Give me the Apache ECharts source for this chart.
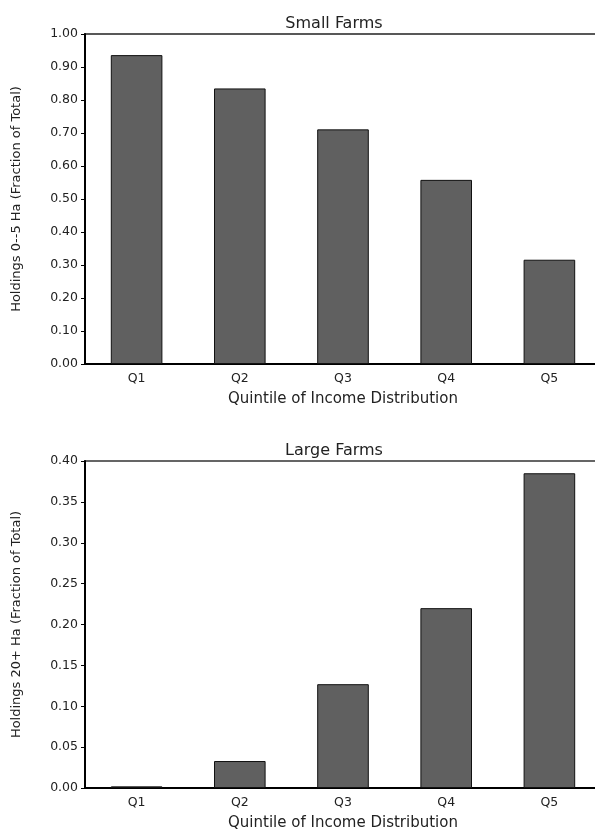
<!DOCTYPE html>
<html>
<head>
<meta charset="utf-8">
<script src="https://cdn.jsdelivr.net/npm/echarts@6/dist/echarts.min.js"></script>
<style>
html,body{margin:0;padding:0;background:#fff;overflow:hidden;width:595px;height:832px;}
#chart{width:603px;height:832px;}
</style>
</head>
<body>
<div id="chart"></div>
<script>
const categories = ['Q1', 'Q2', 'Q3', 'Q4', 'Q5'];
const smallFarms = [0.936, 0.835, 0.711, 0.558, 0.316];
const largeFarms = [0.002, 0.033, 0.127, 0.220, 0.385];
const smallTitle = 'Small Farms';
const largeTitle = 'Large Farms';
const smallYName = 'Holdings 0--5 Ha (Fraction of Total)';
const largeYName = 'Holdings 20+ Ha (Fraction of Total)';
const xName = 'Quintile of Income Distribution';

const FONT = 'DejaVu Sans';
const chart = echarts.init(document.getElementById('chart'), null, {renderer: 'canvas'});

function xAxisCfg(gi) {
  return {
    type: 'category', gridIndex: gi, data: categories,
    name: xName, nameLocation: 'middle', nameGap: 28,
    nameTextStyle: {fontFamily: FONT, fontSize: 15, color: '#222'},
    axisLine: {lineStyle: {color: '#000', width: 2}},
    axisTick: {alignWithLabel: true, length: 4, lineStyle: {color: '#000', width: 1}},
    axisLabel: {fontFamily: FONT, fontSize: 12.5, color: '#222', margin: 8},
    splitLine: {show: false}
  };
}
function yAxisCfg(gi, max, interval, name) {
  return {
    type: 'value', gridIndex: gi, min: 0, max: max, interval: interval,
    name: name, nameLocation: 'middle', nameGap: 62,
    nameTextStyle: {fontFamily: FONT, fontSize: 13, color: '#222'},
    axisLine: {show: true, lineStyle: {color: '#000', width: 2}},
    axisTick: {show: true, length: 4, lineStyle: {color: '#000', width: 1}},
    axisLabel: {fontFamily: FONT, fontSize: 12.5, color: '#222', margin: 7,
      formatter: v => v.toFixed(2)},
    splitLine: {show: false}
  };
}
const barStyle = {color: '#606060', borderColor: '#111', borderWidth: 1};

chart.setOption({
  animation: false,
  backgroundColor: '#fff',
  title: [
    {text: smallTitle, left: 329, top: 11, textAlign: 'center',
     textStyle: {fontFamily: FONT, fontSize: 16, fontWeight: 'normal', color: '#222'}},
    {text: largeTitle, left: 329, top: 438, textAlign: 'center',
     textStyle: {fontFamily: FONT, fontSize: 16, fontWeight: 'normal', color: '#222'}}
  ],
  grid: [
    {left: 85, top: 34, width: 516, height: 330, show: true, borderColor: '#222', borderWidth: 1.5, backgroundColor: 'transparent'},
    {left: 85, top: 461, width: 516, height: 331, show: true, borderColor: '#333', borderWidth: 1.5, backgroundColor: 'transparent'}
  ],
  xAxis: [xAxisCfg(0), xAxisCfg(1)],
  yAxis: [yAxisCfg(0, 1, 0.1, smallYName), yAxisCfg(1, 0.4, 0.05, largeYName)],
  series: [
    {type: 'bar', xAxisIndex: 0, yAxisIndex: 0, data: smallFarms, barWidth: '50%', itemStyle: barStyle},
    {type: 'bar', xAxisIndex: 1, yAxisIndex: 1, data: largeFarms, barWidth: '50%', itemStyle: barStyle}
  ]
});
</script>
</body>
</html>
